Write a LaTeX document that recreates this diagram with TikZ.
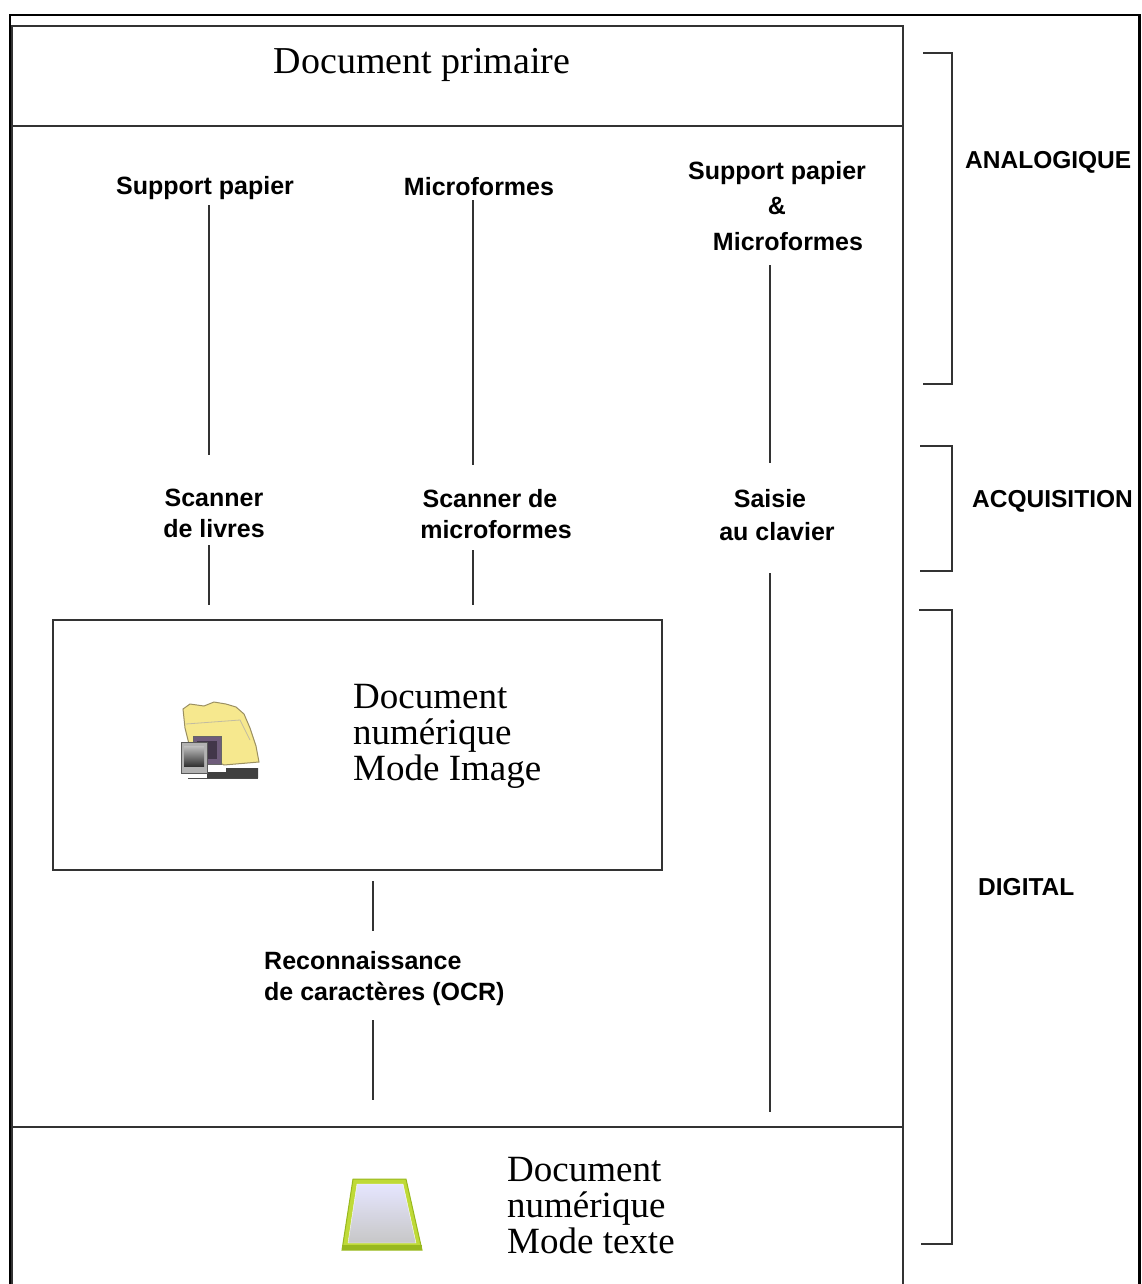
\documentclass[tikz,border=0pt]{standalone}
\usepackage{fontspec}
\setmainfont{Liberation Serif}
\setsansfont{Liberation Sans}
\definecolor{lc}{HTML}{333333}
\definecolor{folderY}{HTML}{F6E88E}
\definecolor{folderD}{HTML}{9A8F62}
\definecolor{photoP}{HTML}{6E5C7A}
\definecolor{greenA}{HTML}{BFDA38}
\definecolor{greenB}{HTML}{98B81E}
\begin{document}
\begin{tikzpicture}[x=1pt,y=-1pt,
  lbl/.style={font=\sffamily\bfseries\fontsize{25}{31}\selectfont, align=center, inner sep=0pt, anchor=base},
  side/.style={font=\sffamily\bfseries\fontsize{24.5}{30}\selectfont, inner sep=0pt, anchor=base west},
  doc/.style={font=\fontsize{37}{36}\selectfont, align=left, inner sep=0pt, anchor=base west},
  conn/.style={draw=lc, line width=1.6pt},
  frame/.style={draw=lc, line width=2pt},
  brk/.style={draw=lc, line width=1.8pt}]
\useasboundingbox (0,0) rectangle (1141,1284);
% outer frame
\draw[line width=2.6pt] (10,1300) -- (10,15) -- (1139.5,15) -- (1139.5,1300);
% inner frame
\draw[frame] (12,1300) -- (12,26) -- (903,26) -- (903,1300);
\draw[frame] (12,126) -- (903,126);
\draw[frame] (12,1127) -- (903,1127);
% top title
\node[font=\fontsize{38}{40}\selectfont, inner sep=0pt, anchor=base] (prim) at (422,74) {Document primaire};
% column labels (base anchor = last line baseline)
\node[lbl] (sp1) at (205,194) {Support papier};
\node[lbl] (mf) at (479,196) {Microformes};
\node[lbl, font=\sffamily\bfseries\fontsize{25}{35.5}\selectfont] (spmf) at (777,250) {Support papier\\\&\\\hspace*{22pt}Microformes};
\node[lbl] (scl) at (214,537) {Scanner\\de livres};
\node[lbl] (scm) at (490,538) {Scanner de\\\hspace*{12pt}microformes};
\node[lbl, font=\sffamily\bfseries\fontsize{25}{33}\selectfont] (sais) at (777,540) {\hspace*{-14pt}Saisie\\au clavier};
\node[lbl, align=left, anchor=base west] (ocr) at (264,1000) {Reconnaissance\\de caractères (OCR)};
% side labels
\node[side] (ana) at (965,168) {ANALOGIQUE};
\node[side] (acq) at (972,507) {ACQUISITION};
\node[side] (dig) at (978,895) {DIGITAL};
% brackets
\draw[brk] (923,53) -- (952,53) -- (952,384) -- (923,384);
\draw[brk] (920,446) -- (952,446) -- (952,571) -- (920,571);
\draw[brk] (919,610) -- (952,610) -- (952,1244) -- (921,1244);
% image box
\node[frame, minimum width=609pt, minimum height=250pt, inner sep=0pt] (imgbox) at (357.5,745) {};
\node[doc] (docimg) at (353,780) {Document\\numérique\\Mode Image};
% bottom text
\node[doc] (doctxt) at (507,1253) {Document\\numérique\\Mode texte};
% connector coordinates
\coordinate (a1) at (209,205); \coordinate (a2) at (209,455);
\coordinate (a3) at (209,545); \coordinate (a4) at (209,605);
\coordinate (b1) at (473,200); \coordinate (b2) at (473,465);
\coordinate (b3) at (473,550); \coordinate (b4) at (473,605);
\coordinate (c1) at (770,265); \coordinate (c2) at (770,463);
\coordinate (c3) at (770,573); \coordinate (c4) at (770,1112);
\coordinate (d1) at (373,881); \coordinate (d2) at (373,931);
\coordinate (d3) at (373,1020); \coordinate (d4) at (373,1100);
\draw[conn] (a1) -- (a2); \draw[conn] (a3) -- (a4);
\draw[conn] (b1) -- (b2); \draw[conn] (b3) -- (b4);
\draw[conn] (c1) -- (c2); \draw[conn] (c3) -- (c4);
\draw[conn] (d1) -- (d2); \draw[conn] (d3) -- (d4);
% folder icon
\draw[black!70, line width=1pt] (188,778.5) -- (258,778.5);
\fill[black!75] (207,778) -- (207,772) -- (226,772) -- (226,768) -- (258,768) -- (258,778) -- cycle;
\filldraw[fill=folderY, draw=folderD, line width=1pt]
  (183,709) -- (190,704) -- (204,706) -- (214,702) -- (226,704) -- (236,707) -- (244,714)
  -- (250,728) -- (256,746) -- (259,762) -- (224,765) -- (190,748) -- (185,728) -- cycle;
\draw[folderD!60, line width=0.8pt] (186,724) -- (240,720) -- (250,740);
\filldraw[fill=photoP, draw=black!60, line width=1pt] (193,736) rectangle (221,764);
\fill[photoP!60!black] (197,741) rectangle (217,759);
\filldraw[fill=black!30, draw=black!65, line width=1pt] (181,742) rectangle (207,773);
\shade[top color=black!25, bottom color=black!80] (184,746) rectangle (204,766);
% text-mode icon
\filldraw[fill=greenA, draw=greenB, line width=1pt] (353,1179) -- (406,1179) -- (422,1250) -- (342,1250) -- cycle;
\shade[top color=white!90!blue, bottom color=black!22, draw=white] (357,1184) -- (403,1184) -- (416,1243) -- (348,1243) -- cycle;
\fill[greenB] (342,1245) -- (422,1245) -- (422,1250) -- (342,1250) -- cycle;
\end{tikzpicture}
\end{document}
